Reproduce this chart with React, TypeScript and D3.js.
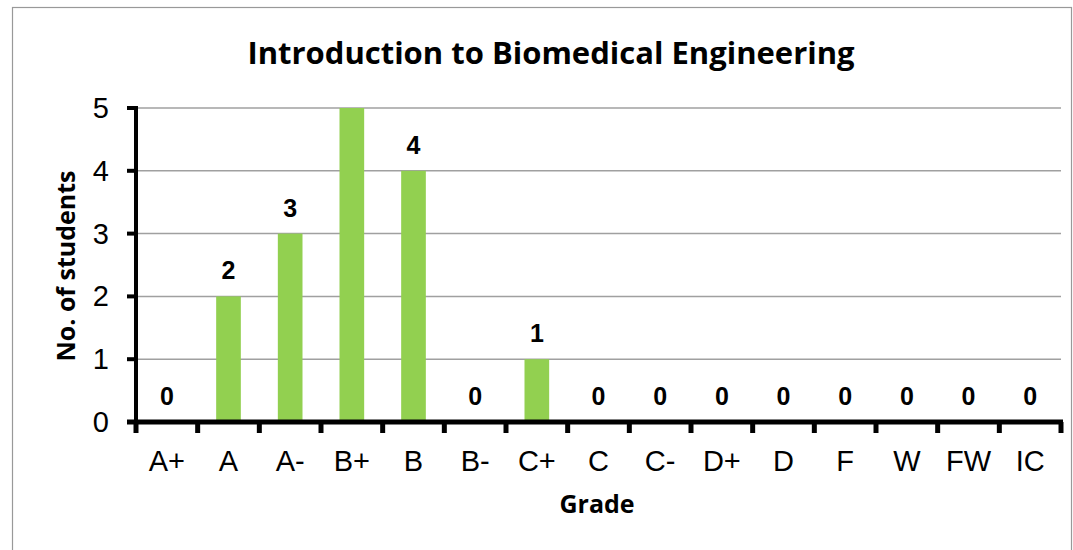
import React, { useEffect, useRef } from "react";
import * as d3 from "d3";

const grades = ["A+", "A", "A-", "B+", "B", "B-", "C+", "C", "C-", "D+", "D", "F", "W", "FW", "IC"];
const students = [0, 2, 3, 5, 4, 0, 1, 0, 0, 0, 0, 0, 0, 0, 0];
const yTicks = [0, 1, 2, 3, 4, 5];

const W = 1073;
const H = 550;

export default function App() {
  const ref = useRef<SVGSVGElement>(null);

  useEffect(() => {
    const svg = d3.select(ref.current);
    svg.selectAll("*").remove();

    const left = 136;
    const right = 1061;
    const top = 108;
    const bottom = 422;

    const x = d3.scaleBand().domain(grades).range([left, right]).paddingInner(0.6).paddingOuter(0.3);
    const xb = d3.scaleBand().domain(grades).range([left, right]);
    const y = d3.scaleLinear().domain([0, 5]).range([bottom, top]);

    // chart border
    svg
      .append("rect")
      .attr("x", 12.5)
      .attr("y", 7.5)
      .attr("width", 1059)
      .attr("height", 600)
      .attr("fill", "#fff")
      .attr("stroke", "#999")
      .attr("stroke-width", 1.2);

    svg
      .append("text")
      .attr("x", 551)
      .attr("y", 64)
      .attr("text-anchor", "middle")
      .style("font-family", "'Open Sans', sans-serif")
      .style("font-weight", "bold")
      .style("font-size", "31px")
      .text("Introduction to Biomedical Engineering");

    // gridlines
    svg
      .append("g")
      .selectAll("line")
      .data(yTicks.filter((d) => d > 0))
      .enter()
      .append("line")
      .attr("x1", left)
      .attr("x2", right)
      .attr("y1", (d) => y(d))
      .attr("y2", (d) => y(d))
      .attr("stroke", "#a0a0a0")
      .attr("stroke-width", 1.5);

    // bars
    svg
      .append("g")
      .selectAll("rect")
      .data(grades)
      .enter()
      .append("rect")
      .attr("x", (d) => x(d)!)
      .attr("y", (d, i) => y(students[i]))
      .attr("width", x.bandwidth())
      .attr("height", (d, i) => bottom - y(students[i]))
      .attr("fill", "#92D050");

    // data labels (the one for the full-height bar falls outside the plot and is hidden)
    svg
      .append("g")
      .selectAll("text")
      .data(grades.filter((d, i) => y(students[i]) - 25 > top))
      .enter()
      .append("text")
      .attr("x", (d) => x(d)! + x.bandwidth() / 2)
      .attr("y", (d) => y(students[grades.indexOf(d)]) - 17)
      .attr("text-anchor", "middle")
      .style("font-family", "'Liberation Sans', Arial, sans-serif")
      .style("font-weight", "bold")
      .style("font-size", "25px")
      .text((d) => students[grades.indexOf(d)]);

    // y axis
    const yAxis = svg.append("g");
    yAxis
      .append("line")
      .attr("x1", left)
      .attr("x2", left)
      .attr("y1", top - 2)
      .attr("y2", bottom + 2)
      .attr("stroke", "#000")
      .attr("stroke-width", 4);
    yAxis
      .selectAll("line.tick")
      .data(yTicks)
      .enter()
      .append("line")
      .attr("class", "tick")
      .attr("x1", left - 9)
      .attr("x2", left)
      .attr("y1", (d) => y(d))
      .attr("y2", (d) => y(d))
      .attr("stroke", "#000")
      .attr("stroke-width", 4);
    yAxis
      .selectAll("text")
      .data(yTicks)
      .enter()
      .append("text")
      .attr("x", left - 27)
      .attr("y", (d) => y(d) + 10)
      .attr("text-anchor", "end")
      .style("font-family", "'Liberation Sans', Arial, sans-serif")
      .style("font-size", "29px")
      .text((d) => d);

    // x axis
    const xAxis = svg.append("g");
    xAxis
      .append("line")
      .attr("x1", left - 9)
      .attr("x2", right + 2)
      .attr("y1", bottom)
      .attr("y2", bottom)
      .attr("stroke", "#000")
      .attr("stroke-width", 5);
    const bounds = grades.map((g) => xb(g)!).concat([right]);
    xAxis
      .selectAll("line.tick")
      .data(bounds)
      .enter()
      .append("line")
      .attr("class", "tick")
      .attr("x1", (d) => d)
      .attr("x2", (d) => d)
      .attr("y1", bottom)
      .attr("y2", bottom + 11)
      .attr("stroke", "#000")
      .attr("stroke-width", 5);
    xAxis
      .selectAll("text")
      .data(grades)
      .enter()
      .append("text")
      .attr("x", (d) => xb(d)! + xb.bandwidth() / 2)
      .attr("y", 471)
      .attr("text-anchor", "middle")
      .style("font-family", "'Liberation Sans', Arial, sans-serif")
      .style("font-size", "29px")
      .text((d) => d);

    // axis titles
    svg
      .append("text")
      .attr("transform", `translate(75, 266) rotate(-90)`)
      .attr("text-anchor", "middle")
      .style("font-family", "'Open Sans', sans-serif")
      .style("font-weight", "bold")
      .style("font-size", "25px")
      .text("No. of students");

    svg
      .append("text")
      .attr("x", 597)
      .attr("y", 513)
      .attr("text-anchor", "middle")
      .style("font-family", "'Open Sans', sans-serif")
      .style("font-weight", "bold")
      .style("font-size", "25px")
      .text("Grade");
  }, []);

  return (
    <svg
      ref={ref}
      width={W}
      height={H}
      style={{ position: "absolute", left: 0, top: 0, background: "#fff" }}
    />
  );
}
